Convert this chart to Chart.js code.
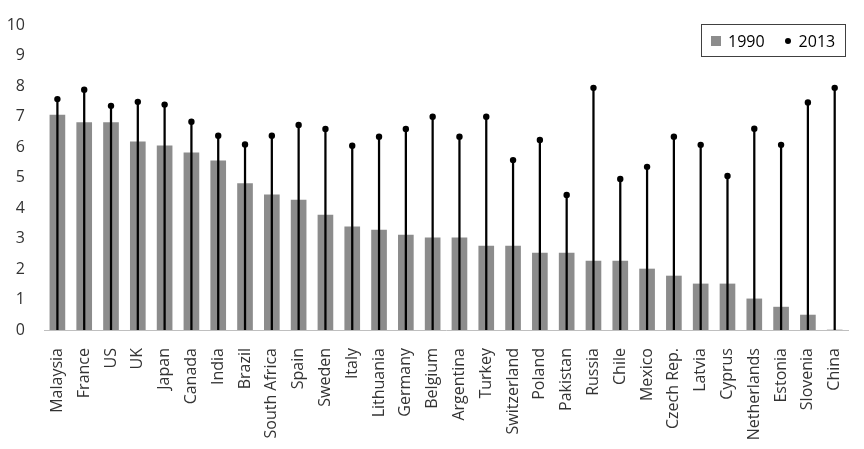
<!DOCTYPE html>
<html>
<head>
<meta charset="utf-8">
<script src="https://cdn.jsdelivr.net/npm/chart.js@4.4.1/dist/chart.umd.min.js"></script>
<style>
  html, body { margin: 0; padding: 0; background: #fff; }
  #wrap { position: relative; width: 864px; height: 449px; }
  #legend {
    position: absolute; left: 701px; top: 24px; width: 143px; height: 31px;
    border: 1px solid #404040; box-sizing: content-box;
    font-family: "Open Sans", sans-serif; font-size: 16px; color: #000;
    display: flex; align-items: center; white-space: nowrap;
  }
  #legend .sq { display: inline-block; width: 10px; height: 10px; background: #8c8c8c; margin-left: 9px; margin-right: 7px; }
  #legend .dot { display: inline-block; width: 6px; height: 6px; border-radius: 50%; background: #000; margin-left: 20px; margin-right: 8px; }
</style>
</head>
<body>
<div id="wrap">
  <canvas id="c" width="864" height="449"></canvas>
  <div id="legend"><span class="sq"></span><span>1990</span><span class="dot"></span><span>2013</span></div>
</div>
<script>
const categories = ["Malaysia","France","US","UK","Japan","Canada","India","Brazil","South Africa","Spain","Sweden","Italy","Lithuania","Germany","Belgium","Argentina","Turkey","Switzerland","Poland","Pakistan","Russia","Chile","Mexico","Czech Rep.","Latvia","Cyprus","Netherlands","Estonia","Slovenia","China"];
const values1990 = [7.05,6.8,6.8,6.17,6.04,5.81,5.55,4.8,4.43,4.26,3.77,3.38,3.28,3.11,3.02,3.02,2.75,2.75,2.52,2.52,2.26,2.26,2.0,1.77,1.51,1.51,1.02,0.75,0.49,0];
const values2013 = [7.57,7.88,7.35,7.48,7.39,6.83,6.37,6.08,6.37,6.72,6.59,6.04,6.34,6.59,6.99,6.34,6.99,5.57,6.23,4.43,7.94,4.95,5.35,6.34,6.07,5.05,6.6,6.07,7.46,7.94];
const yTicks = [0,1,2,3,4,5,6,7,8,9,10];

const FONT = "'Open Sans', sans-serif";

new Chart(document.getElementById('c'), {
  type: 'bar',
  data: {
    labels: categories,
    datasets: [
      {
        type: 'line',
        label: '2013',
        data: values2013,
        showLine: false,
        pointRadius: 3.2,
        pointBackgroundColor: '#000',
        pointBorderWidth: 0,
        pointHoverRadius: 3.2,
        order: 0
      },
      {
        type: 'bar',
        label: '2013 stem',
        data: values2013,
        backgroundColor: '#000',
        barThickness: 1.6,
        grouped: false,
        order: 1
      },
      {
        type: 'bar',
        label: '1990',
        data: values1990,
        backgroundColor: '#8c8c8c',
        barThickness: 15,
        grouped: false,
        order: 2
      }
    ]
  },
  options: {
    responsive: false,
    animation: false,
    events: [],
    layout: { padding: { top: 25, right: 6, left: 0, bottom: 0 } },
    plugins: { legend: { display: false }, tooltip: { enabled: false } },
    scales: {
      x: {
        grid: { display: false },
        border: { display: true, color: '#bfbfbf', width: 1 },
        ticks: {
          minRotation: 90, maxRotation: 90, autoSkip: false,
          padding: 10,
          color: '#333333',
          font: { family: FONT, size: 16 }
        },
        afterFit: (s) => { s.height = 119; }
      },
      y: {
        min: 0, max: 10,
        grid: { display: false },
        border: { display: false },
        afterBuildTicks: (s) => { s.ticks = yTicks.map(v => ({ value: v })); },
        ticks: {
          padding: 11,
          color: '#333333',
          font: { family: FONT, size: 16 }
        },
        afterFit: (s) => { s.width = 44; }
      }
    }
  }
});
</script>
</body>
</html>
